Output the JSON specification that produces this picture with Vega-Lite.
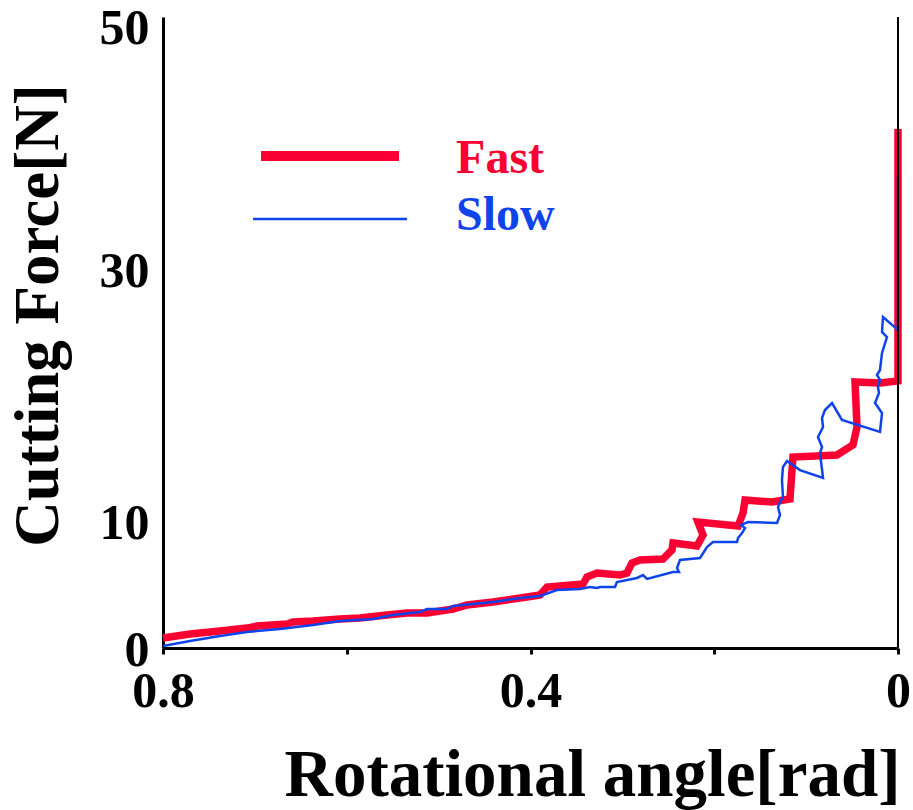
{
  "$schema": "https://vega.github.io/schema/vega-lite/v6.json",
  "width": 735,
  "height": 631,
  "autosize": {"type": "none"},
  "padding": {"left": 163, "top": 17, "right": 15, "bottom": 162},
  "background": "white",
  "config": {"view": {"stroke": null}},
  "datasets": {
    "curves": [
      {"series": "Fast", "seq": 1, "angle": 0.8, "force": 0.79},
      {"series": "Fast", "seq": 2, "angle": 0.7706, "force": 1.11},
      {"series": "Fast", "seq": 3, "angle": 0.738, "force": 1.35},
      {"series": "Fast", "seq": 4, "angle": 0.7086, "force": 1.58},
      {"series": "Fast", "seq": 5, "angle": 0.6977, "force": 1.74},
      {"series": "Fast", "seq": 6, "angle": 0.665, "force": 1.9},
      {"series": "Fast", "seq": 7, "angle": 0.6585, "force": 2.06},
      {"series": "Fast", "seq": 8, "angle": 0.6367, "force": 2.14},
      {"series": "Fast", "seq": 9, "angle": 0.6073, "force": 2.3},
      {"series": "Fast", "seq": 10, "angle": 0.5856, "force": 2.38},
      {"series": "Fast", "seq": 11, "angle": 0.5562, "force": 2.61},
      {"series": "Fast", "seq": 12, "angle": 0.5344, "force": 2.77},
      {"series": "Fast", "seq": 13, "angle": 0.5127, "force": 2.77},
      {"series": "Fast", "seq": 14, "angle": 0.4844, "force": 3.09},
      {"series": "Fast", "seq": 15, "angle": 0.4691, "force": 3.41},
      {"series": "Fast", "seq": 16, "angle": 0.4408, "force": 3.65},
      {"series": "Fast", "seq": 17, "angle": 0.4038, "force": 4.04},
      {"series": "Fast", "seq": 18, "angle": 0.3897, "force": 4.2},
      {"series": "Fast", "seq": 19, "angle": 0.382, "force": 4.83},
      {"series": "Fast", "seq": 20, "angle": 0.3429, "force": 5.07},
      {"series": "Fast", "seq": 21, "angle": 0.3385, "force": 5.63},
      {"series": "Fast", "seq": 22, "angle": 0.3276, "force": 5.94},
      {"series": "Fast", "seq": 23, "angle": 0.3026, "force": 5.78},
      {"series": "Fast", "seq": 24, "angle": 0.295, "force": 5.94},
      {"series": "Fast", "seq": 25, "angle": 0.2895, "force": 6.74},
      {"series": "Fast", "seq": 26, "angle": 0.2808, "force": 6.97},
      {"series": "Fast", "seq": 27, "angle": 0.2558, "force": 7.05},
      {"series": "Fast", "seq": 28, "angle": 0.246, "force": 7.77},
      {"series": "Fast", "seq": 29, "angle": 0.2449, "force": 8.32},
      {"series": "Fast", "seq": 30, "angle": 0.2188, "force": 8.08},
      {"series": "Fast", "seq": 31, "angle": 0.2122, "force": 8.95},
      {"series": "Fast", "seq": 32, "angle": 0.2177, "force": 9.98},
      {"series": "Fast", "seq": 33, "angle": 0.1741, "force": 9.67},
      {"series": "Fast", "seq": 34, "angle": 0.1687, "force": 10.7},
      {"series": "Fast", "seq": 35, "angle": 0.1665, "force": 11.73},
      {"series": "Fast", "seq": 36, "angle": 0.1371, "force": 11.57},
      {"series": "Fast", "seq": 37, "angle": 0.1176, "force": 11.81},
      {"series": "Fast", "seq": 38, "angle": 0.1143, "force": 15.13},
      {"series": "Fast", "seq": 39, "angle": 0.0664, "force": 15.29},
      {"series": "Fast", "seq": 40, "angle": 0.049, "force": 16.09},
      {"series": "Fast", "seq": 41, "angle": 0.0446, "force": 17.51},
      {"series": "Fast", "seq": 42, "angle": 0.0468, "force": 21.08},
      {"series": "Fast", "seq": 43, "angle": 0.0196, "force": 21.0},
      {"series": "Fast", "seq": 44, "angle": 0.0, "force": 21.16},
      {"series": "Fast", "seq": 45, "angle": 0.0, "force": 41.13},
      {"series": "Slow", "seq": 1, "angle": 0.8, "force": 0.16},
      {"series": "Slow", "seq": 2, "angle": 0.7706, "force": 0.55},
      {"series": "Slow", "seq": 3, "angle": 0.738, "force": 0.95},
      {"series": "Slow", "seq": 4, "angle": 0.7086, "force": 1.27},
      {"series": "Slow", "seq": 5, "angle": 0.6727, "force": 1.51},
      {"series": "Slow", "seq": 6, "angle": 0.6367, "force": 1.82},
      {"series": "Slow", "seq": 7, "angle": 0.6073, "force": 2.14},
      {"series": "Slow", "seq": 8, "angle": 0.5714, "force": 2.3},
      {"series": "Slow", "seq": 9, "angle": 0.5497, "force": 2.61},
      {"series": "Slow", "seq": 10, "angle": 0.5203, "force": 2.85},
      {"series": "Slow", "seq": 11, "angle": 0.5127, "force": 3.09},
      {"series": "Slow", "seq": 12, "angle": 0.4909, "force": 3.09},
      {"series": "Slow", "seq": 13, "angle": 0.4844, "force": 3.33},
      {"series": "Slow", "seq": 14, "angle": 0.4626, "force": 3.49},
      {"series": "Slow", "seq": 15, "angle": 0.4408, "force": 3.65},
      {"series": "Slow", "seq": 16, "angle": 0.4114, "force": 3.96},
      {"series": "Slow", "seq": 17, "angle": 0.3897, "force": 4.12},
      {"series": "Slow", "seq": 18, "angle": 0.3712, "force": 4.6},
      {"series": "Slow", "seq": 19, "angle": 0.3461, "force": 4.68},
      {"series": "Slow", "seq": 20, "angle": 0.3352, "force": 4.83},
      {"series": "Slow", "seq": 21, "angle": 0.3276, "force": 4.75},
      {"series": "Slow", "seq": 22, "angle": 0.3244, "force": 4.83},
      {"series": "Slow", "seq": 23, "angle": 0.308, "force": 4.83},
      {"series": "Slow", "seq": 24, "angle": 0.3059, "force": 5.23},
      {"series": "Slow", "seq": 25, "angle": 0.2841, "force": 5.55},
      {"series": "Slow", "seq": 26, "angle": 0.2776, "force": 5.78},
      {"series": "Slow", "seq": 27, "angle": 0.2732, "force": 5.47},
      {"series": "Slow", "seq": 28, "angle": 0.2449, "force": 6.02},
      {"series": "Slow", "seq": 29, "angle": 0.2384, "force": 6.02},
      {"series": "Slow", "seq": 30, "angle": 0.2405, "force": 6.34},
      {"series": "Slow", "seq": 31, "angle": 0.2373, "force": 6.97},
      {"series": "Slow", "seq": 32, "angle": 0.2155, "force": 7.13},
      {"series": "Slow", "seq": 33, "angle": 0.2079, "force": 8.0},
      {"series": "Slow", "seq": 34, "angle": 0.2014, "force": 8.4},
      {"series": "Slow", "seq": 35, "angle": 0.1752, "force": 8.4},
      {"series": "Slow", "seq": 36, "angle": 0.1741, "force": 8.72},
      {"series": "Slow", "seq": 37, "angle": 0.1698, "force": 9.11},
      {"series": "Slow", "seq": 38, "angle": 0.1665, "force": 9.51},
      {"series": "Slow", "seq": 39, "angle": 0.1709, "force": 9.75},
      {"series": "Slow", "seq": 40, "angle": 0.1633, "force": 9.98},
      {"series": "Slow", "seq": 41, "angle": 0.1317, "force": 9.9},
      {"series": "Slow", "seq": 42, "angle": 0.1284, "force": 10.54},
      {"series": "Slow", "seq": 43, "angle": 0.1306, "force": 11.17},
      {"series": "Slow", "seq": 44, "angle": 0.1284, "force": 11.57},
      {"series": "Slow", "seq": 45, "angle": 0.1252, "force": 11.97},
      {"series": "Slow", "seq": 46, "angle": 0.1263, "force": 13.31},
      {"series": "Slow", "seq": 47, "angle": 0.1252, "force": 14.34},
      {"series": "Slow", "seq": 48, "angle": 0.1208, "force": 14.82},
      {"series": "Slow", "seq": 49, "angle": 0.1067, "force": 14.1},
      {"series": "Slow", "seq": 50, "angle": 0.0816, "force": 13.47},
      {"series": "Slow", "seq": 51, "angle": 0.0849, "force": 15.45},
      {"series": "Slow", "seq": 52, "angle": 0.0827, "force": 15.93},
      {"series": "Slow", "seq": 53, "angle": 0.0871, "force": 16.72},
      {"series": "Slow", "seq": 54, "angle": 0.0816, "force": 17.51},
      {"series": "Slow", "seq": 55, "angle": 0.0827, "force": 18.23},
      {"series": "Slow", "seq": 56, "angle": 0.0795, "force": 18.86},
      {"series": "Slow", "seq": 57, "angle": 0.0718, "force": 19.41},
      {"series": "Slow", "seq": 58, "angle": 0.061, "force": 18.07},
      {"series": "Slow", "seq": 59, "angle": 0.0196, "force": 17.12},
      {"series": "Slow", "seq": 60, "angle": 0.0174, "force": 18.62},
      {"series": "Slow", "seq": 61, "angle": 0.025, "force": 19.41},
      {"series": "Slow", "seq": 62, "angle": 0.0207, "force": 20.21},
      {"series": "Slow", "seq": 63, "angle": 0.0218, "force": 20.68},
      {"series": "Slow", "seq": 64, "angle": 0.0196, "force": 21.24},
      {"series": "Slow", "seq": 65, "angle": 0.0229, "force": 21.63},
      {"series": "Slow", "seq": 66, "angle": 0.0196, "force": 22.03},
      {"series": "Slow", "seq": 67, "angle": 0.0174, "force": 23.38},
      {"series": "Slow", "seq": 68, "angle": 0.012, "force": 24.64},
      {"series": "Slow", "seq": 69, "angle": 0.0174, "force": 25.04},
      {"series": "Slow", "seq": 70, "angle": 0.0163, "force": 26.23},
      {"series": "Slow", "seq": 71, "angle": 0.0, "force": 25.2},
      {"series": "Slow", "seq": 72, "angle": 0.0, "force": 37.48}
    ],
    "key": [
      {"series": "Fast", "from": 0.6933, "to": 0.5431, "level": 38.98, "labelAt": 0.481, "labelLevel": 37.64},
      {"series": "Slow", "from": 0.702, "to": 0.5344, "level": 34.0, "labelAt": 0.481, "labelLevel": 33.12}
    ],
    "edge": [{"angle": 0}]
  },
  "encoding": {
    "x": {
      "type": "quantitative",
      "scale": {"domain": [0, 0.8], "reverse": true, "nice": false, "zero": false}
    },
    "y": {
      "type": "quantitative",
      "scale": {"domain": [0, 50], "nice": false}
    }
  },
  "layer": [
    {
      "data": {"name": "curves"},
      "transform": [{"filter": "datum.series === 'Fast'"}],
      "mark": {"type": "line", "color": "#fa0032", "strokeWidth": 7.5, "strokeJoin": "miter", "strokeMiterLimit": 2, "clip": false},
      "encoding": {
        "x": {
          "field": "angle",
          "type": "quantitative",
          "axis": {
            "title": "Rotational angle[rad]",
            "values": [0.8, 0.6, 0.4, 0.2, 0],
            "labelExpr": "datum.value == 0.8 ? '0.8' : datum.value == 0.4 ? '0.4' : datum.value == 0 ? '0' : ''",
            "grid": false,
            "domainColor": "black",
            "domainWidth": 3,
            "tickColor": "black",
            "tickWidth": 3,
            "tickSize": 6,
            "encode": {"ticks": {"update": {"y": {"value": -11}}}},
            "labelFont": "Liberation Serif",
            "labelFontWeight": "bold",
            "labelFontSize": 50,
            "labelColor": "black",
            "labelPadding": 12,
            "labelFlush": false,
            "labelOverlap": false,
            "titleFont": "Liberation Serif",
            "titleFontWeight": "bold",
            "titleFontSize": 67,
            "titleColor": "black",
            "titleAlign": "right",
            "titleBaseline": "alphabetic",
            "titleX": 737,
            "titleY": 147
          }
        },
        "y": {
          "field": "force",
          "type": "quantitative",
          "axis": {
            "title": "Cutting Force[N]",
            "values": [0, 10, 20, 30, 40, 50],
            "labelExpr": "datum.value == 20 || datum.value == 40 ? '' : datum.label",
            "grid": false,
            "domainColor": "black",
            "domainWidth": 3,
            "tickColor": "black",
            "tickWidth": 3,
            "tickSize": 0,
            "encode": {
              "ticks": {"update": {"x": {"value": 3}, "x2": {"value": 10}}}
            },
            "labelOffset": {"condition": {"test": "datum.value == 50", "value": 11}, "value": 2},
            "labelFont": "Liberation Serif",
            "labelFontWeight": "bold",
            "labelFontSize": 50,
            "labelColor": "black",
            "labelPadding": 14,
            "labelFlush": false,
            "labelOverlap": false,
            "titleFont": "Liberation Serif",
            "titleFontWeight": "bold",
            "titleFontSize": 63,
            "titleColor": "black",
            "titleAngle": -90,
            "titleAlign": "center",
            "titleBaseline": "alphabetic",
            "titleX": -106,
            "titleY": 298
          }
        },
        "order": {"field": "seq", "type": "quantitative"}
      }
    },
    {
      "data": {"name": "curves"},
      "transform": [{"filter": "datum.series === 'Slow'"}],
      "mark": {"type": "line", "color": "#0f44ea", "strokeWidth": 2.5, "clip": false},
      "encoding": {
        "x": {"field": "angle", "type": "quantitative"},
        "y": {"field": "force", "type": "quantitative"},
        "order": {"field": "seq", "type": "quantitative"}
      }
    },
    {
      "data": {"name": "edge"},
      "mark": {"type": "rule", "color": "black", "strokeWidth": 2},
      "encoding": {
        "x": {"field": "angle", "type": "quantitative"}
      }
    },
    {
      "data": {"name": "key"},
      "transform": [{"filter": "datum.series === 'Fast'"}],
      "mark": {"type": "rule", "color": "#fa0032", "strokeWidth": 10},
      "encoding": {
        "x": {"field": "from", "type": "quantitative"},
        "x2": {"field": "to"},
        "y": {"field": "level", "type": "quantitative"}
      }
    },
    {
      "data": {"name": "key"},
      "transform": [{"filter": "datum.series === 'Slow'"}],
      "mark": {"type": "rule", "color": "#0f44ea", "strokeWidth": 2.5},
      "encoding": {
        "x": {"field": "from", "type": "quantitative"},
        "x2": {"field": "to"},
        "y": {"field": "level", "type": "quantitative"}
      }
    },
    {
      "data": {"name": "key"},
      "mark": {"type": "text", "align": "left", "baseline": "alphabetic", "font": "Liberation Serif", "fontWeight": "bold", "fontSize": 48},
      "encoding": {
        "x": {"field": "labelAt", "type": "quantitative"},
        "y": {"field": "labelLevel", "type": "quantitative"},
        "text": {"field": "series"},
        "color": {
          "field": "series",
          "type": "nominal",
          "scale": {"domain": ["Fast", "Slow"], "range": ["#fa0032", "#0f44ea"]},
          "legend": null
        }
      }
    }
  ]
}
